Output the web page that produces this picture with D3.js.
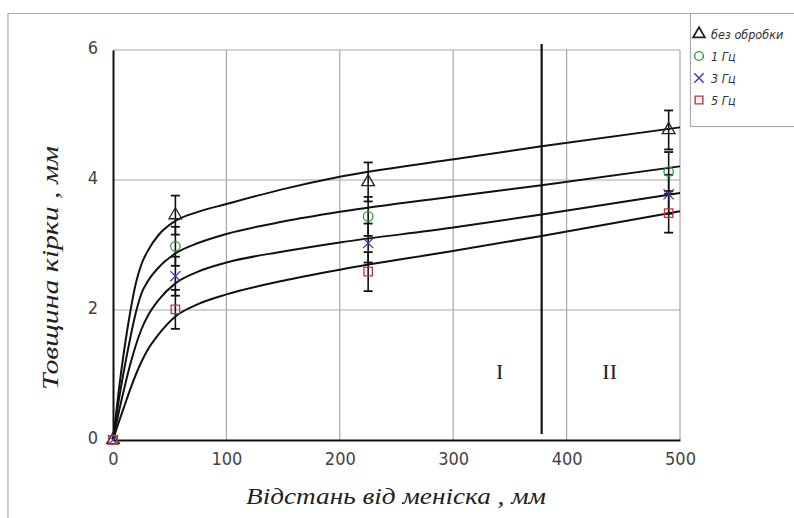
<!DOCTYPE html>
<html>
<head>
<meta charset="utf-8">
<script src="https://cdn.jsdelivr.net/npm/d3@7"></script>
<style>
  body { margin: 0; background: #fff; }
  svg { display: block; }
</style>
</head>
<body>
<div id="chart"></div>
<script>
// measured points (distance from meniscus, mm)
var pointX = [0, 55, 225, 490];
var seriesNames = ["без обробки", "1 Гц", "3 Гц", "5 Гц"];
var seriesValues = [
    [0, 3.46, 3.97, 4.77],
    [0, 2.98, 3.44, 4.13],
    [0, 2.52, 3.03, 3.78],
    [0, 2.01, 2.59, 3.49]
];
var errValue = 0.3;

// fitted curves
var curveX = [0, 5, 10, 15, 20, 25, 31, 40, 55, 75, 100, 150, 200, 297, 378, 500];
var curveValues = [
    [0, 0.75, 1.40, 1.95, 2.40, 2.70, 2.92, 3.15, 3.37, 3.51, 3.63, 3.86, 4.05, 4.31, 4.52, 4.81],
    [0, 0.60, 1.10, 1.55, 1.95, 2.25, 2.45, 2.65, 2.87, 3.03, 3.17, 3.36, 3.51, 3.74, 3.92, 4.21],
    [0, 0.42, 0.80, 1.15, 1.45, 1.70, 1.92, 2.15, 2.41, 2.59, 2.73, 2.90, 3.04, 3.26, 3.47, 3.80],
    [0, 0.27, 0.52, 0.77, 1.00, 1.20, 1.40, 1.62, 1.90, 2.09, 2.24, 2.45, 2.62, 2.90, 3.14, 3.52]
];

var xTicks = [0, 100, 200, 300, 400, 500];
var yTicks = [0, 2, 4, 6];
var zoneLine = 378;
var zoneLabels = [{ text: "I", x: 341 }, { text: "II", x: 438 }];
var zoneLabelY = 1.05;

var colors = ["#222", "#2e9a3e", "#3a3fa8", "#c8333f"];
var symbols = [d3.symbolTriangle, d3.symbolCircle, d3.symbolTimes, d3.symbolSquare];

var width = 794, height = 518;
var svg = d3.select("#chart").append("svg")
    .attr("width", width)
    .attr("height", height);

// outer frame
svg.append("path")
    .attr("d", "M8,520 L8,13.5 L690,13.5")
    .attr("fill", "none")
    .attr("stroke", "#aaa")
    .attr("stroke-width", 1.2);

var x = d3.scaleLinear().domain([0, 500]).range([113, 680]);
var y = d3.scaleLinear().domain([0, 6]).range([440, 50]);

// grid
svg.append("g")
    .selectAll("line")
    .data(xTicks.slice(1))
    .enter().append("line")
    .attr("x1", d => x(d)).attr("x2", d => x(d))
    .attr("y1", y(0)).attr("y2", y(6))
    .attr("stroke", "#a8a8a8").attr("stroke-width", 1.2);

svg.append("g")
    .selectAll("line")
    .data(yTicks.slice(1))
    .enter().append("line")
    .attr("x1", x(0)).attr("x2", x(500))
    .attr("y1", d => y(d)).attr("y2", d => y(d))
    .attr("stroke", "#a8a8a8").attr("stroke-width", 1.2);

// axes
var xAxis = svg.append("g")
    .attr("transform", "translate(0," + y(0) + ")")
    .call(d3.axisBottom(x).tickValues(xTicks).tickFormat(d3.format("d")).tickSize(0).tickPadding(12));
var yAxis = svg.append("g")
    .attr("transform", "translate(" + x(0) + ",0)")
    .call(d3.axisLeft(y).tickValues(yTicks).tickFormat(d3.format("d")).tickSize(0).tickPadding(15));

[xAxis, yAxis].forEach(function (g) {
    g.select(".domain").attr("stroke", "#111").attr("stroke-width", 2);
    g.selectAll("text")
        .attr("font-family", "'DejaVu Sans Condensed', 'DejaVu Sans', sans-serif")
        .attr("font-size", "18px")
        .attr("font-weight", "300")
        .attr("fill", "#444");
});
yAxis.selectAll("text").attr("dy", "0.2em");

// zone divider
svg.append("line")
    .attr("x1", x(zoneLine)).attr("x2", x(zoneLine))
    .attr("y1", 44).attr("y2", 434)
    .attr("stroke", "#111").attr("stroke-width", 2.2);

svg.selectAll(".zone")
    .data(zoneLabels)
    .enter().append("text")
    .attr("class", "zone")
    .attr("x", d => x(d.x))
    .attr("y", y(zoneLabelY))
    .attr("text-anchor", "middle")
    .attr("dominant-baseline", "central")
    .attr("font-family", "'Liberation Serif', serif")
    .attr("font-size", "22px")
    .attr("fill", "#222")
    .text(d => d.text);

// fitted curves
var line = d3.line()
    .x(d => x(d[0]))
    .y(d => y(d[1]))
    .curve(d3.curveMonotoneX);

svg.append("g")
    .selectAll("path")
    .data(curveValues)
    .enter().append("path")
    .attr("d", vals => line(curveX.map((cx, i) => [cx, vals[i]])))
    .attr("fill", "none")
    .attr("stroke", "#111")
    .attr("stroke-width", 2);

// error bars
seriesValues.forEach(function (vals) {
    var g = svg.append("g");
    pointX.forEach(function (px, i) {
        if (px === 0) return;
        var cx = x(px), lo = y(vals[i] - errValue), hi = y(vals[i] + errValue);
        g.append("line").attr("x1", cx).attr("x2", cx).attr("y1", lo).attr("y2", hi)
            .attr("stroke", "#111").attr("stroke-width", 1.6);
        [lo, hi].forEach(function (cy) {
            g.append("line").attr("x1", cx - 4.5).attr("x2", cx + 4.5).attr("y1", cy).attr("y2", cy)
                .attr("stroke", "#111").attr("stroke-width", 1.8);
        });
    });
});

// markers
seriesValues.forEach(function (vals, s) {
    var sym = d3.symbol().type(symbols[s]).size(70);
    svg.append("g")
        .selectAll("path")
        .data(vals)
        .enter().append("path")
        .attr("transform", (d, i) => "translate(" + x(pointX[i]) + "," + y(d) + ")")
        .attr("d", sym)
        .attr("fill", "none")
        .attr("stroke", colors[s])
        .attr("stroke-width", 1.3);
});

// axis titles
svg.append("text")
    .attr("x", 396).attr("y", 504)
    .attr("text-anchor", "middle")
    .attr("font-family", "'Liberation Serif', serif")
    .attr("font-style", "italic")
    .attr("font-size", "24px")
    .attr("textLength", 300)
    .attr("lengthAdjust", "spacingAndGlyphs")
    .attr("fill", "#222")
    .text("Відстань від меніска , мм");

svg.append("text")
    .attr("transform", "translate(58,268) rotate(-90)")
    .attr("text-anchor", "middle")
    .attr("font-family", "'Liberation Serif', serif")
    .attr("font-style", "italic")
    .attr("font-size", "24px")
    .attr("textLength", 244)
    .attr("lengthAdjust", "spacingAndGlyphs")
    .attr("fill", "#222")
    .text("Товщина кірки , мм");

// legend
var legend = svg.append("g");
legend.append("rect")
    .attr("x", 690.5).attr("y", 13.5)
    .attr("width", 110).attr("height", 113)
    .attr("fill", "#fff")
    .attr("stroke", "#aaa").attr("stroke-width", 1.2);

var legY = [34, 56, 78, 100];
seriesNames.forEach(function (name, s) {
    legend.append("path")
        .attr("transform", "translate(699," + legY[s] + ")")
        .attr("d", d3.symbol().type(symbols[s]).size(60))
        .attr("fill", "none")
        .attr("stroke", colors[s])
        .attr("stroke-width", s === 0 ? 1.8 : 1.4);
    legend.append("text")
        .attr("x", 711).attr("y", legY[s])
        .attr("dominant-baseline", "central")
        .attr("font-family", "'DejaVu Sans Condensed', 'DejaVu Sans', sans-serif")
        .attr("font-style", "italic")
        .attr("font-weight", "300")
        .attr("font-size", "12.5px")
        .attr("fill", "#333")
        .text(name);
});
</script>
</body>
</html>
